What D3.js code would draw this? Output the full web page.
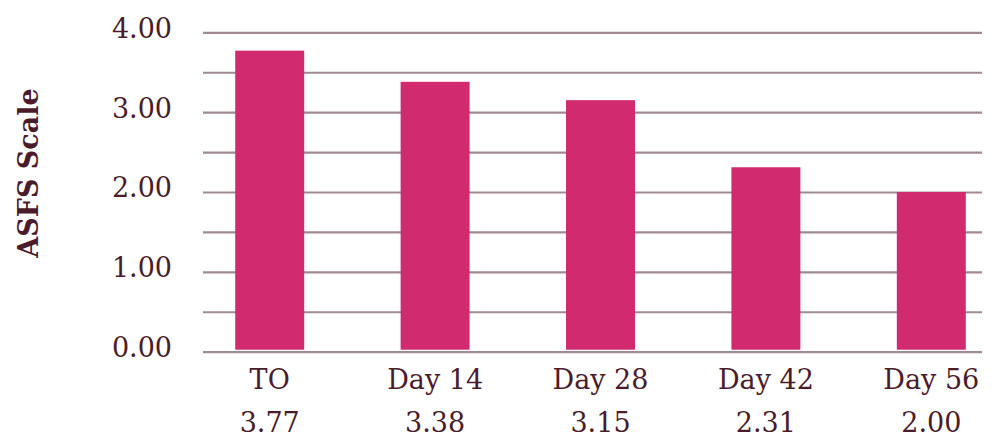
<!DOCTYPE html>
<html>
<head>
<meta charset="utf-8">
<script src="https://cdn.jsdelivr.net/npm/d3@7"></script>
<style>
  html, body { margin: 0; padding: 0; background: #ffffff; }
  svg { display: block; }
  text { font-family: "DejaVu Serif", "Liberation Serif", serif; fill: #4a1c2b; }
</style>
</head>
<body>
<svg id="chart" width="1000" height="439"></svg>
<script>
// ---- data ----
const categories = ["TO", "Day 14", "Day 28", "Day 42", "Day 56"];
const values = [3.77, 3.38, 3.15, 2.31, 2.00];
const yTickLabels = [0, 1, 2, 3, 4];
const gridValues = [0, 0.5, 1, 1.5, 2, 2.5, 3, 3.5, 4];
const yAxisTitle = "ASFS Scale";

// ---- layout ----
const svg = d3.select("#chart");
const gridLeft = 203, gridRight = 982;

const y = d3.scaleLinear().domain([0, 4]).range([351.7, 32.3]);
const x = d3.scaleBand()
  .domain(categories)
  .range([187, 1014])
  .paddingInner(0.583)
  .paddingOuter(0.2915);

// gridlines
const grid = svg.append("g")
  .attr("transform", `translate(${gridLeft},0)`)
  .call(d3.axisLeft(y).tickValues(gridValues).tickSize(-(gridRight - gridLeft)).tickFormat(""));
grid.select(".domain").remove();
grid.selectAll(".tick line")
  .attr("stroke", "#a08a92")
  .attr("stroke-width", 2.2);

// bars
svg.append("g").selectAll("rect")
  .data(values)
  .join("rect")
  .attr("x", (d, i) => x(categories[i]))
  .attr("y", d => y(d))
  .attr("width", x.bandwidth())
  .attr("height", d => y(0) - 2 - y(d))
  .attr("fill", "#d12a6e");

// y tick labels
const yAxis = svg.append("g")
  .attr("transform", `translate(${gridLeft},0)`)
  .call(d3.axisLeft(y).tickValues(yTickLabels).tickFormat(d3.format(".2f")).tickSize(0).tickPadding(31));
yAxis.select(".domain").remove();
yAxis.selectAll("text")
  .attr("font-size", 27)
  .attr("font-family", "DejaVu Serif, serif")
  .attr("fill", "#4a1c2b")
  .attr("dy", "0.18em");

// x category labels
const xAxis = svg.append("g")
  .attr("transform", `translate(0,${y(0)})`)
  .call(d3.axisBottom(x).tickSize(0).tickPadding(18));
xAxis.select(".domain").remove();
xAxis.selectAll("text")
  .attr("font-size", 27)
  .attr("font-family", "DejaVu Serif, serif")
  .attr("fill", "#4a1c2b");

// value labels under categories
svg.append("g").selectAll("text")
  .data(values)
  .join("text")
  .attr("x", (d, i) => x(categories[i]) + x.bandwidth() / 2)
  .attr("y", 432)
  .attr("text-anchor", "middle")
  .attr("font-size", 27)
  .text(d => d3.format(".2f")(d));

// y axis title
svg.append("text")
  .attr("transform", "translate(38,173) rotate(-90)")
  .attr("text-anchor", "middle")
  .attr("font-size", 27)
  .attr("font-weight", "bold")
  .text(yAxisTitle);
</script>
</body>
</html>
